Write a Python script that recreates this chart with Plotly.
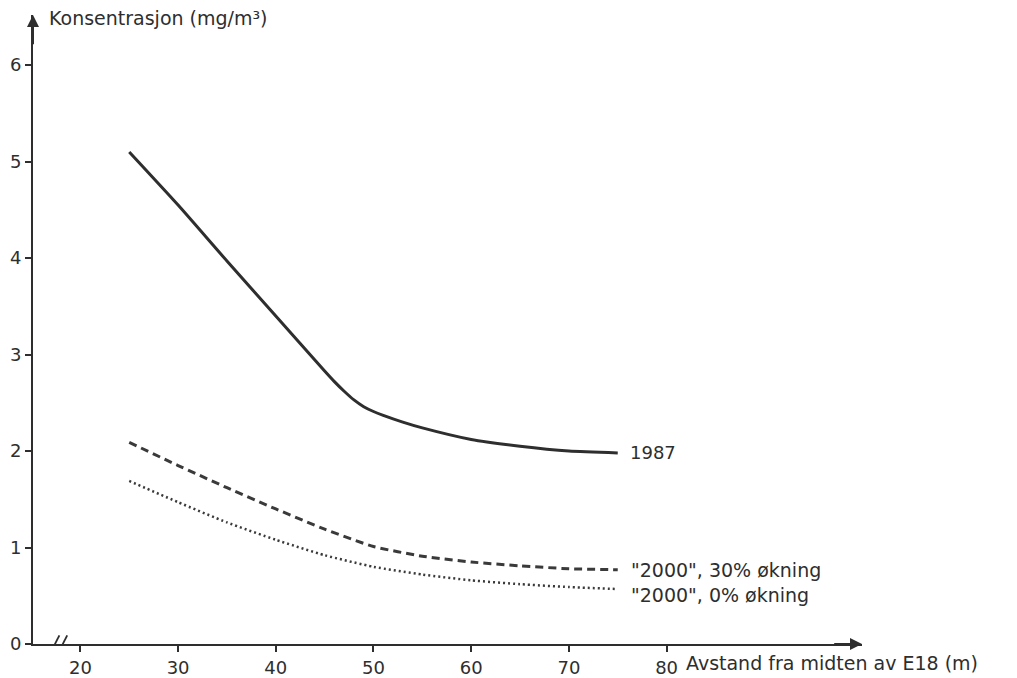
import plotly.graph_objects as go

# ---- data ----
x_1987 = [25, 30, 35, 40, 45, 46, 47, 48, 49, 50, 51, 53, 55, 60, 65, 70, 75]
y_1987 = [5.10, 4.55, 3.97, 3.40, 2.83, 2.72, 2.62, 2.53, 2.46, 2.41, 2.37, 2.30, 2.24, 2.12, 2.05, 2.00, 1.98]

x_2000_30 = [25, 30, 35, 40, 45, 50, 55, 60, 65, 70, 75]
y_2000_30 = [2.09, 1.85, 1.62, 1.40, 1.19, 1.01, 0.91, 0.85, 0.81, 0.78, 0.77]

x_2000_0 = [25, 30, 35, 40, 45, 50, 55, 60, 65, 70, 75]
y_2000_0 = [1.69, 1.47, 1.26, 1.08, 0.92, 0.80, 0.72, 0.66, 0.62, 0.59, 0.57]

x_ticks = [20, 30, 40, 50, 60, 70, 80]
y_ticks = [0, 1, 2, 3, 4, 5, 6]

labels = ["1987", "\"2000\", 30% økning", "\"2000\", 0% økning"]
y_title = "Konsentrasjon (mg/m³)"
x_title = "Avstand fra midten av E18 (m)"

INK = "#2e2e2e"
FONT = "DejaVu Sans"

fig = go.Figure()
fig.add_trace(go.Scatter(x=x_1987, y=y_1987, mode="lines",
                         line=dict(color=INK, width=3, shape="spline", smoothing=0.6),
                         showlegend=False, hoverinfo="skip"))
fig.add_trace(go.Scatter(x=x_2000_30, y=y_2000_30, mode="lines",
                         line=dict(color="#3a3a3a", width=3, dash="8px,5px", shape="spline", smoothing=0.5),
                         showlegend=False, hoverinfo="skip"))
fig.add_trace(go.Scatter(x=x_2000_0, y=y_2000_0, mode="lines",
                         line=dict(color="#3a3a3a", width=2.5, dash="2px,3px", shape="spline", smoothing=0.5),
                         showlegend=False, hoverinfo="skip"))

# curve labels
fig.add_annotation(x=76.0, y=y_1987[-1], text=labels[0], showarrow=False,
                   xanchor="left", yanchor="middle", font=dict(family=FONT, size=18, color=INK))
fig.add_annotation(x=76.2, y=y_2000_30[-1], text=labels[1], showarrow=False,
                   xanchor="left", yanchor="middle", font=dict(family=FONT, size=19, color=INK))
fig.add_annotation(x=76.2, y=y_2000_0[-1] - 0.06, text=labels[2], showarrow=False,
                   xanchor="left", yanchor="middle", font=dict(family=FONT, size=19, color=INK))

# axis titles
fig.add_annotation(x=16.6, y=6.49, text=y_title, showarrow=False,
                   xanchor="left", yanchor="middle", font=dict(family=FONT, size=19, color=INK))
fig.add_annotation(x=81.8, xref="x", y=-0.03, yref="paper", text=x_title, showarrow=False,
                   xanchor="left", yanchor="middle", font=dict(family=FONT, size=19, color=INK))

# axis arrowheads
fig.add_annotation(x=100, y=0, ax=97, ay=0, axref="x", ayref="y", text="",
                   showarrow=True, arrowhead=2, arrowsize=1.2, arrowwidth=2, arrowcolor=INK)
fig.add_annotation(x=15.15, y=6.52, ax=15.15, ay=6.2, axref="x", ayref="y", text="",
                   showarrow=True, arrowhead=2, arrowsize=1.2, arrowwidth=2, arrowcolor=INK)

# axis break marks "//"
for bx in (17.4, 18.2):
    fig.add_shape(type="line", x0=bx - 0.45, y0=-0.09, x1=bx + 0.45, y1=0.09,
                  line=dict(color=INK, width=1.8), xref="x", yref="y")

fig.update_layout(
    width=1009, height=670,
    margin=dict(l=25, r=155, t=7, b=34, autoexpand=False),
    paper_bgcolor="white", plot_bgcolor="white",
    font=dict(family=FONT, size=18, color=INK),
    xaxis=dict(range=[15.15, 100], tickvals=x_ticks, ticks="outside", ticklen=6,
               tickwidth=1.5, tickcolor=INK, showline=True, linecolor=INK, linewidth=2,
               showgrid=False, zeroline=False, automargin=False,
               tickfont=dict(family=FONT, size=18, color=INK)),
    yaxis=dict(range=[0, 6.52], tickvals=y_ticks, ticks="outside", ticklen=6,
               tickwidth=1.5, tickcolor=INK, showline=True, linecolor=INK, linewidth=2,
               showgrid=False, zeroline=False, automargin=False,
               tickfont=dict(family=FONT, size=18, color=INK)),
)

fig.write_html("out.html")
